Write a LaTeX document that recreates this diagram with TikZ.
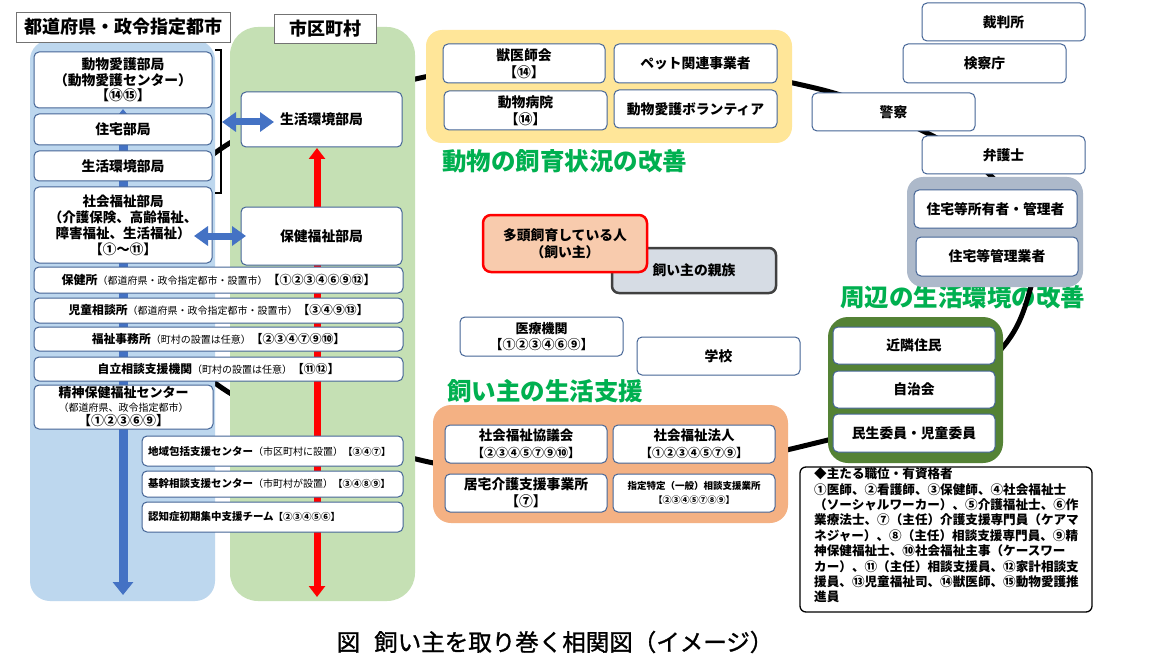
\documentclass[tikz,border=0pt]{standalone}
\usepackage{fontspec}
\setmainfont{Noto Sans CJK JP}[RawFeature={+fwid}]
\newfontfamily\capfont{Noto Sans CJK JP}[FakeBold=1.2]
\usetikzlibrary{arrows.meta}
\definecolor{colblue}{HTML}{BDD7EE}
\definecolor{colgreen}{HTML}{C5E0B4}
\definecolor{boxline}{RGB}{68,100,150}
\definecolor{yel}{HTML}{FFE699}
\definecolor{grayg}{HTML}{ADB9CA}
\definecolor{dkgreen}{HTML}{548235}
\definecolor{orng}{HTML}{F4B183}
\definecolor{salmon}{HTML}{F8CBAD}
\definecolor{kin}{HTML}{D6DCE4}
\definecolor{labgreen}{HTML}{00B050}
\definecolor{arrblue}{HTML}{4472C4}
\newcommand\fsz[2]{\fontsize{#1}{#2}\selectfont}
\newcommand\prn[1]{{\mdseries\fsz{10}{12}#1}}
\begin{document}
\begin{tikzpicture}[x=1pt,y=-1pt,
  sz/.style 2 args={minimum width=#1, minimum height=#2},
  bx/.style={draw=boxline, fill=white, line width=1pt, rounded corners=5pt, inner sep=1pt, align=center, text=black, font=\bfseries\fsz{13.8}{16.5}},
  grp/.style={rounded corners=16pt, inner sep=0pt},
  hdr/.style={draw=black!55, fill=white, line width=0.8pt, inner sep=0pt, font=\bfseries\fsz{18}{20}},
  grnlabel/.style={text=labgreen, font=\bfseries\fsz{24.5}{26}, anchor=west, inner sep=0pt},
  colbox/.style={inner sep=0pt},
  bigloop/.style={line width=5pt, black},
  varrow/.style={line width=9pt, arrblue, {Triangle[width=20pt,length=13pt]}-{Triangle[width=20pt,length=13pt]}},
  rarrow/.style={line width=7pt, red, {Triangle[width=16pt,length=11pt]}-{Triangle[width=16pt,length=11pt]}},
  harrow/.style={line width=7pt, arrblue, {Triangle[width=19pt,length=14pt]}-{Triangle[width=19pt,length=14pt]}},
  lowbox/.style={bx, align=left, text width=249pt, inner xsep=6pt, inner ysep=0pt, minimum height=#1, font=\bfseries\fsz{10.5}{12}}
]
\fill[white] (0,0) rectangle (1161,671);
\useasboundingbox (0,0) rectangle (1161,671);

% label under the loop
\node[grnlabel] (lab2) at (840,297.5) {周辺の生活環境の改善};

% the big loop behind everything
\draw[bigloop] plot[smooth cycle, tension=0.6] coordinates {(140,268) (222,148) (420,78) (620,60) (815,88) (927,133) (990,175) (1035,235) (1030,290) (1003,347) (930,410) (828,440) (700,466) (560,470) (420,460) (222,388)};

% columns
\node[colbox, fill=colblue, rounded corners=20pt, sz={185}{561}] (colL) at (122.5,320.5) {};
\node[colbox, fill=colgreen, rounded corners=28pt, sz={185}{574}] (colR) at (322.5,314) {};
\node[hdr, sz={214}{30}] (hdrL) at (123,27) {都道府県・政令指定都市};
\node[hdr, sz={102}{29}] (hdrR) at (325,28.5) {市区町村};

% vertical arrows
\coordinate (btop) at (123,109);
\coordinate (bbot) at (123,595);
\draw[varrow] (btop) -- (bbot);
\coordinate (rtop) at (317,148);
\coordinate (rbot) at (317,597);
\draw[rarrow] (rtop) -- (rbot);

% prefecture boxes
\node[bx, sz={178}{56}, font=\bfseries\fsz{13.8}{15.5}] (dobutsu) at (123,80) {動物愛護部局\\（動物愛護センター）\\【⑭⑮】};
\node[bx, sz={178}{31}] (jutaku) at (123,129.5) {住宅部局};
\node[bx, sz={178}{30}] (seikatsuP) at (123,166) {生活環境部局};
\node[bx, sz={178}{76}, font=\bfseries\fsz{13.5}{16}] (shakai) at (123,225) {社会福祉部局\\（介護保険、高齢福祉、\\障害福祉、生活福祉）\\【①～⑪】};
% municipal boxes
\node[bx, sz={161}{55}] (seikatsuM) at (321.5,119.5) {生活環境部局};
\node[bx, sz={161}{58}] (hoken) at (321.5,236) {保健福祉部局};
% wide boxes
\node[bx, sz={369}{26}, font=\bfseries\fsz{12}{14}] (hokenjo) at (218.5,280) {保健所\prn{（都道府県・政令指定都市・設置市）}【①②③④⑥⑨⑫】};
\node[bx, sz={369}{25}, font=\bfseries\fsz{11.8}{14}] (jido) at (218.5,310.5) {児童相談所\prn{（都道府県・政令指定都市・設置市）}【③④⑨⑬】};
\node[bx, sz={369}{24}, font=\bfseries\fsz{11.8}{14}] (fukushi) at (218.5,339) {福祉事務所\prn{（町村の設置は任意）}【②③④⑦⑨⑩】};
\node[bx, sz={369}{24}, font=\bfseries\fsz{11.8}{14}] (jiritsu) at (218.5,369) {自立相談支援機関\prn{（町村の設置は任意）}【⑪⑫】};
\node[bx, sz={179}{44}, font=\bfseries\fsz{13}{14}] (seishin) at (123.5,407) {精神保健福祉センター\\\prn{（都道府県、政令指定都市）}\\【①②③⑥⑨】};
\node[lowbox=30] (chiiki) at (272.5,451) {地域包括支援センター\prn{（市区町村に設置）}{\fsz{9.5}{12}【③④⑦】}};
\node[lowbox=26] (kikan) at (272.5,484) {基幹相談支援センター\prn{（市町村が設置）}{\fsz{9.5}{12}【③④⑧⑨】}};
\node[lowbox=30] (ninchi) at (272.5,517) {認知症初期集中支援チーム{\fsz{9.5}{12}【②③④⑤⑥】}};

% horizontal double arrows
\coordinate (h1a) at (222,122);
\coordinate (h1b) at (274,122);
\draw[harrow] (h1a) -- (h1b);
\coordinate (h2a) at (194,236);
\coordinate (h2b) at (246,236);
\draw[harrow] (h2a) -- (h2b);
% bracket
\coordinate (brt) at (215,50);
\coordinate (brb) at (215,193);
\draw[line width=1.3pt] (brt) -- ++(6,0) |- (brb);

% yellow group
\node[grp, fill=yel, sz={366}{113}] (ygrp) at (609,86.5) {};
\node[bx, sz={162}{39}, font=\bfseries\fsz{13.8}{17}] (jui) at (524,63.5) {獣医師会\\【⑭】};
\node[bx, sz={163}{39}] (pet) at (695.5,63.5) {ペット関連事業者};
\node[bx, sz={163}{39}, font=\bfseries\fsz{13.8}{17}] (byoin) at (525.5,110.5) {動物病院\\【⑭】};
\node[bx, sz={163}{38}] (volun) at (695.5,109) {動物愛護ボランティア};
\node[grnlabel] (lab1) at (442,161) {動物の飼育状況の改善};

% right side
\node[bx, sz={163}{38}] (saiban) at (1003.5,22) {裁判所};
\node[bx, sz={163}{39}] (kensatsu) at (984.5,63.5) {検察庁};
\node[bx, sz={163}{38}] (keisatsu) at (893.5,112) {警察};
\node[bx, sz={163}{38}] (bengo) at (1003.5,155) {弁護士};
\node[grp, fill=grayg, sz={176}{110}] (ggrp) at (995,232) {};
\node[bx, sz={163}{38}] (shoyu) at (995.5,209) {住宅等所有者・管理者};
\node[bx, sz={162}{39}] (kanri) at (997,256.5) {住宅等管理業者};

% dark green group
\node[grp, fill=dkgreen, rounded corners=20pt, sz={175}{146}] (dgrp) at (915.5,390) {};
\node[bx, sz={162}{37}] (kinrin) at (914,345.5) {近隣住民};
\node[bx, sz={162}{37}] (jichi) at (914,389.5) {自治会};
\node[bx, sz={162}{38}] (minsei) at (914,433) {民生委員・児童委員};

% centre
\node[bx, sz={164}{45}, fill=kin, draw=black!75, line width=2.5pt, rounded corners=7pt] (shinzoku) at (694,270.5) {飼い主の親族};
\node[bx, sz={164}{57}, fill=salmon, draw=red, line width=2.5pt, rounded corners=8pt, font=\bfseries\fsz{13.8}{17}] (tato) at (565,243.5) {多頭飼育している人\\（飼い主）};
\node[bx, sz={163}{39}, font=\bfseries\fsz{13}{16}] (iryo) at (541.5,336.5) {医療機関\\【①②③④⑥⑨】};
\node[bx, sz={163}{38}] (gakko) at (718.5,356) {学校};
\node[grnlabel] (lab3) at (447,391) {飼い主の生活支援};

% orange group
\node[grp, fill=orng, rounded corners=18pt, sz={355}{118}] (ogrp) at (610.5,464) {};
\node[bx, sz={162}{38}, font=\bfseries\fsz{13.5}{17}] (kyogikai) at (526,444) {社会福祉協議会\\{\fsz{12}{17}【②③④⑤⑦⑨⑩】}};
\node[bx, sz={162}{38}, font=\bfseries\fsz{13.5}{17}] (hojin) at (694,444) {社会福祉法人\\{\fsz{12}{17}【①②③④⑤⑦⑨】}};
\node[bx, sz={162}{38}, font=\bfseries\fsz{13.8}{17}] (kyotaku) at (526,493) {居宅介護支援事業所\\【⑦】};
\node[bx, sz={162}{38}, font=\bfseries\fsz{9.5}{14}] (shitei) at (694,493) {指定特定（一般）相談支援業所\\{\fsz{9}{14}【②③④⑤⑦⑧⑨】}};

% legend
\node[draw=black, line width=1.3pt, rounded corners=6pt, fill=white, sz={292}{145}] (legend) at (946,539.5) {};
\node[anchor=north west, align=left, inner sep=0pt, font=\bfseries\fsz{12.6}{15.4}] (legtext) at (814,467.5) {◆主たる職位・有資格者\\①医師、②看護師、③保健師、④社会福祉士\\（ソーシャルワーカー）、⑤介護福祉士、⑥作\\業療法士、⑦（主任）介護支援専門員（ケアマ\\ネジャー）、⑧（主任）相談支援専門員、⑨精\\神保健福祉士、⑩社会福祉主事（ケースワー\\カー）、⑪（主任）相談支援員、⑫家計相談支\\援員、⑬児童福祉司、⑭獣医師、⑮動物愛護推\\進員};

% caption
\node[font=\capfont\fsz{23.5}{26}] (caption) at (555,642) {図\hspace{0.6em}飼い主を取り巻く相関図（イメージ）};
\end{tikzpicture}
\end{document}
